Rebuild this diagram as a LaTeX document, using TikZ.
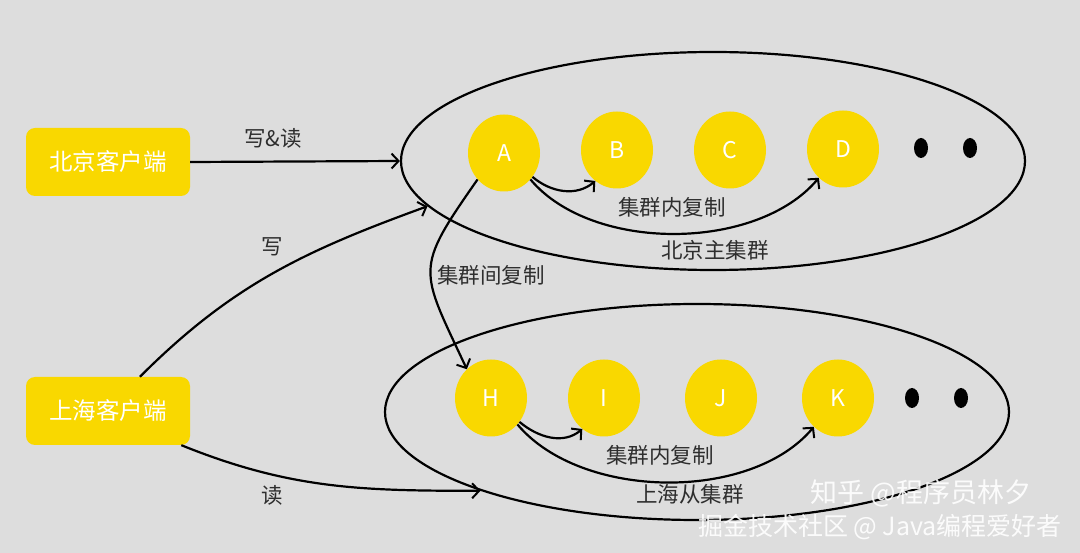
\documentclass[tikz,border=0pt]{standalone}
\usepackage{fontspec}
\setmainfont{Noto Sans CJK SC}
\usetikzlibrary{shapes.geometric,arrows.meta}
\definecolor{bg}{HTML}{DDDDDD}
\definecolor{ylw}{HTML}{F9D800}
\definecolor{lbltxt}{HTML}{2E2E2E}
\begin{document}
\begin{tikzpicture}[x=1pt,y=-1pt,
  client/.style={fill=ylw, rounded corners=9pt, minimum width=164pt, minimum height=68pt, text=white, font=\fontsize{23.5}{26}\selectfont, inner sep=0pt},
  srv/.style={ellipse, fill=ylw, minimum width=72pt, minimum height=77pt, text=white, font=\fontsize{23}{26}\selectfont, inner sep=0pt},
  blackdot/.style={ellipse, fill=black, minimum width=14pt, minimum height=20pt, inner sep=0pt},
  cluster/.style={ellipse, draw, line width=2.2pt, minimum width=624pt, minimum height=218pt, inner sep=0pt},
  conn/.style={line width=2.2pt, -{Straight Barb[length=7pt,width=15pt,line width=2pt]}},
  lbl/.style={font=\fontsize{21.5}{24}\selectfont, text=lbltxt, inner sep=0pt},
  wm/.style={text=white, opacity=0.9, inner sep=0pt},
]
\fill[bg] (0,0) rectangle (1080,553);
\useasboundingbox (0,0) rectangle (1080,553);

% clients
\node[client] (bjc) at (108,162) {北京客户端};
\node[client] (shc) at (108,411) {上海客户端};

% clusters
\node[cluster] (bj) at (713,161) {};
\node[cluster, minimum height=216pt] (sh) at (697,412) {};

% Beijing servers
\node[srv] (A) at (504,153) {A};
\node[srv] (B) at (617,150) {B};
\node[srv] (C) at (730,150) {C};
\node[srv] (D) at (843,149) {D};
\node[blackdot] (bd1) at (921,148) {};
\node[blackdot] (bd2) at (970,148) {};

% Shanghai servers
\node[srv] (H) at (491,398) {H};
\node[srv] (I) at (604,398) {I};
\node[srv] (J) at (721,398) {J};
\node[srv] (K) at (838,398) {K};
\node[blackdot] (sd1) at (912,398) {};
\node[blackdot] (sd2) at (961,398) {};

% client connectors
\draw[conn] (bjc.east) -- (bj.west);
\draw[conn] (shc.47) to[out=45,in=200] (bj.189);
\draw[conn] (shc.-25) to[out=-22,in=180] (sh.200);
\node[lbl] (l1) at (273,138) {写\&读};
\node[lbl] (l2) at (272,247) {写};
\node[lbl] (l3) at (272,495) {读};

% Beijing intra-cluster
\draw[conn] (A.-40) to[out=-40,in=-140] (B.235);
\draw[conn] (A.-45) to[out=-50,in=-130,looseness=0.85] (D.230);
\node[lbl] (l4) at (672,207) {集群内复制};
\node[lbl] (l5) at (715,250) {北京主集群};

% inter-cluster
\draw[conn] (A.225) to[out=235,in=115,looseness=1.5] (H.130);
\node[lbl] (l6) at (491,275) {集群间复制};

% Shanghai intra-cluster
\draw[conn] (H.-40) to[out=-40,in=-140] (I.235);
\draw[conn] (H.-45) to[out=-50,in=-130,looseness=0.85] (K.230);
\node[lbl] (l7) at (660,455) {集群内复制};
\node[lbl] (l8) at (690,494) {上海从集群};

% watermarks
\node[wm, font=\fontsize{27}{30}\selectfont] (w1) at (921,493) {知乎 @程序员林夕};
\node[wm, font=\fontsize{25}{28}\selectfont] (w2) at (880,527) {掘金技术社区 @ Java编程爱好者};
\end{tikzpicture}
\end{document}
